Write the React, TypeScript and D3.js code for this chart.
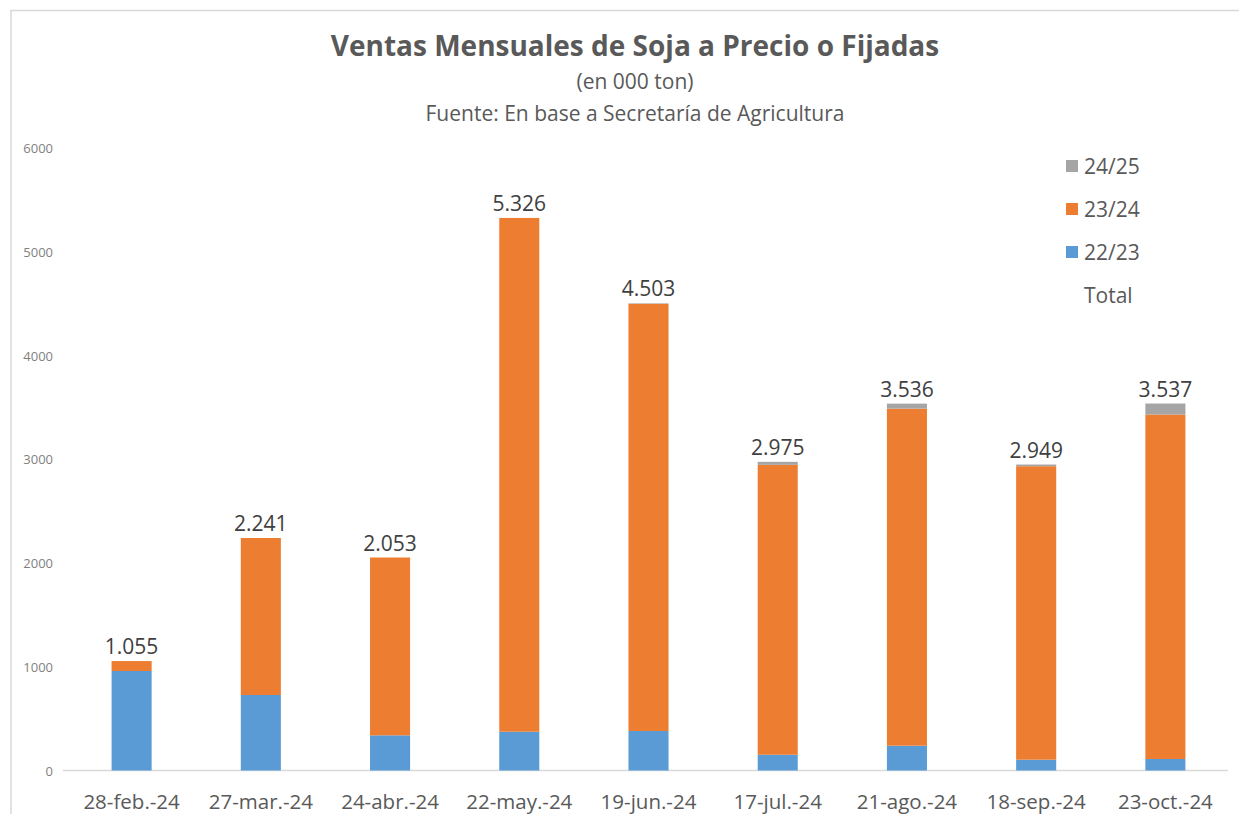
import React, { useEffect, useRef } from 'react';
import * as d3 from 'd3';

const categories = ['28-feb.-24', '27-mar.-24', '24-abr.-24', '22-may.-24', '19-jun.-24', '17-jul.-24', '21-ago.-24', '18-sep.-24', '23-oct.-24'];
const totals = [1055, 2241, 2053, 5326, 4503, 2975, 3536, 2949, 3537];
const s2223 = [959, 728, 339, 374, 381, 152, 239, 104, 111];
const s2425 = [0, 0, 0, 0, 5, 29, 48, 16, 106];
const s2324 = totals.map((t, i) => t - s2223[i] - s2425[i]);
const yTicks = [0, 1000, 2000, 3000, 4000, 5000, 6000];

const seriesNames = ['22/23', '23/24', '24/25'];
const colors = ['#5b9bd5', '#ed7d31', '#a5a5a5'];

function App() {
  const ref = useRef<SVGSVGElement>(null);

  useEffect(() => {
    const width = 1239, height = 814;
    const svg = d3.select(ref.current);
    svg.selectAll('*').remove();
    svg.attr('width', width).attr('height', height);

    const font = "'Open Sans', sans-serif";

    // frame
    svg.append('rect')
      .attr('x', 11).attr('y', 10.5)
      .attr('width', width).attr('height', height)
      .attr('fill', '#fff').attr('stroke', '#d9d9d9').attr('stroke-width', 1.5);

    // titles
    svg.append('text').attr('x', 635).attr('y', 56)
      .attr('text-anchor', 'middle').attr('font-family', font)
      .attr('font-weight', 'bold').attr('font-size', 28).attr('fill', '#595959')
      .text('Ventas Mensuales de Soja a Precio o Fijadas');
    svg.append('text').attr('x', 635).attr('y', 89)
      .attr('text-anchor', 'middle').attr('font-family', font)
      .attr('font-size', 21).attr('fill', '#595959')
      .text('(en 000 ton)');
    svg.append('text').attr('x', 635).attr('y', 121)
      .attr('text-anchor', 'middle').attr('font-family', font)
      .attr('font-size', 21).attr('fill', '#595959')
      .text('Fuente: En base a Secretaría de Agricultura');

    const x = d3.scaleBand<string>()
      .domain(categories)
      .range([67, 1230])
      .paddingInner(0.69)
      .paddingOuter(0.345);

    const y = d3.scaleLinear().domain([0, 6000]).range([770.5, 148]);

    // y ticks
    svg.append('g')
      .selectAll('text')
      .data(yTicks)
      .join('text')
      .attr('x', 53)
      .attr('y', d => y(d) + 5)
      .attr('text-anchor', 'end')
      .attr('font-family', font)
      .attr('font-size', 13)
      .attr('fill', '#7f7f7f')
      .text(d => d);

    // x axis line
    svg.append('line')
      .attr('x1', 63).attr('x2', 1228)
      .attr('y1', y(0)).attr('y2', y(0))
      .attr('stroke', '#d9d9d9').attr('stroke-width', 1.5);

    // stacks
    const rows = categories.map((c, i) => ({ cat: c, '22/23': s2223[i], '23/24': s2324[i], '24/25': s2425[i] }));
    const stack = d3.stack<any>().keys(seriesNames)(rows);

    svg.append('g')
      .selectAll('g')
      .data(stack)
      .join('g')
      .attr('fill', (d, i) => colors[i])
      .selectAll('rect')
      .data(d => d)
      .join('rect')
      .attr('x', d => x(d.data.cat)!)
      .attr('y', d => y(d[1]))
      .attr('width', x.bandwidth())
      .attr('height', d => y(d[0]) - y(d[1]));

    // total labels
    svg.append('g')
      .selectAll('text')
      .data(categories)
      .join('text')
      .attr('x', d => x(d)! + x.bandwidth() / 2)
      .attr('y', (d, i) => y(totals[i]) - 7)
      .attr('text-anchor', 'middle')
      .attr('font-family', font)
      .attr('font-size', 21)
      .attr('fill', '#404040')
      .text((d, i) => d3.format(',')(totals[i]).replace(',', '.'));

    // x labels
    svg.append('g')
      .selectAll('text')
      .data(categories)
      .join('text')
      .attr('x', d => x(d)! + x.bandwidth() / 2)
      .attr('y', 809)
      .attr('text-anchor', 'middle')
      .attr('font-family', font)
      .attr('font-size', 20.5)
      .attr('fill', '#595959')
      .text(d => d);

    // legend
    const legendItems = [
      { name: '24/25', color: colors[2] },
      { name: '23/24', color: colors[1] },
      { name: '22/23', color: colors[0] },
      { name: 'Total', color: null },
    ];
    const lg = svg.append('g');
    legendItems.forEach((it, i) => {
      const cy = 166 + i * 43;
      if (it.color) {
        lg.append('rect').attr('x', 1066).attr('y', cy - 6).attr('width', 12).attr('height', 12).attr('fill', it.color);
      }
      lg.append('text')
        .attr('x', 1084).attr('y', cy + 7.5)
        .attr('font-family', font).attr('font-size', 21)
        .attr('fill', '#595959')
        .text(it.name);
    });
  }, []);

  return (
    <svg ref={ref} style={{ position: 'absolute', left: 0, top: 0, display: 'block' }}></svg>
  );
}

export default App;
